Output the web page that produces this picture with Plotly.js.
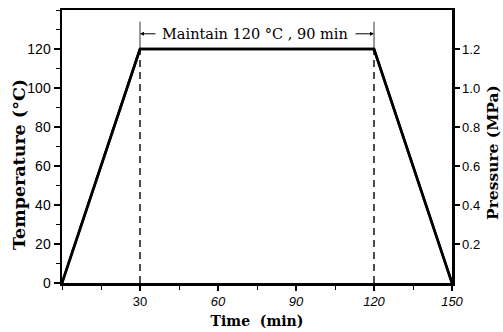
<!DOCTYPE html>
<html>
<head>
<meta charset="utf-8">
<script src="https://cdn.plot.ly/plotly-3.0.1.min.js"></script>
<style>html,body{margin:0;padding:0;background:#fff;}#chart{width:503px;height:332px;}</style>
</head>
<body>
<div id="chart"></div>
<script>
// Data
const timeMin = [0, 30, 120, 150];
const tempC = [0, 120, 120, 0];
const pressureMPa = [0, 1.2, 1.2, 0];
const holdTimes = [30, 120];
const holdTemp = 120;
const xTickVals = [30, 60, 90, 120, 150];
const xTickText = ['30', '<i>60</i>', '<i>90</i>', '<i>120</i>', '<i>150</i>'];
const yTickVals = [0, 20, 40, 60, 80, 100, 120];
const y2TickVals = [0.2, 0.4, 0.6, 0.8, 1.0, 1.2];
const y2TickText = ['0.2', '0.4', '0.6', '0.8', '1.0', '1.2'];
const annotationText = 'Maintain 120 °C , 90 min';
const xTitle = '<b>Time  (min)</b>';
const yTitle = '<b>Temperature (°C)</b>';
const y2Title = '<b>Pressure (MPa)</b>';

const traces = [
  {x: timeMin, y: tempC, mode: 'lines', line: {color: '#000', width: 2.6}, xaxis: 'x', yaxis: 'y', hoverinfo: 'skip'},
  {x: timeMin, y: pressureMPa, mode: 'lines', line: {color: '#000', width: 2.6}, xaxis: 'x', yaxis: 'y2', hoverinfo: 'skip'}
];
holdTimes.forEach(t => {
  traces.push({x: [t, t], y: [0, holdTemp], mode: 'lines', line: {color: '#000', width: 1.4, dash: '7px,5px'}, hoverinfo: 'skip'});
  traces.push({x: [t, t], y: [holdTemp, holdTemp + 14], mode: 'lines', line: {color: '#000', width: 0.8}, hoverinfo: 'skip'});
});

const serif = 'DejaVu Serif, serif';
const sans = 'Liberation Sans, Arial, sans-serif';

const layout = {
  width: 503, height: 332,
  margin: {l: 62, r: 51, t: 10, b: 49},
  showlegend: false,
  paper_bgcolor: '#fff', plot_bgcolor: '#fff',
  xaxis: {
    range: [0, 150], showgrid: false, zeroline: false,
    showline: true, linecolor: '#000', linewidth: 2.5, mirror: true,
    tickmode: 'array', tickvals: xTickVals, ticktext: xTickText,
    ticks: 'outside', ticklen: 5, tickwidth: 1.2, tickcolor: '#000',
    minor: {dtick: 15, ticks: 'outside', ticklen: 4, tickwidth: 1, tickcolor: '#000'},
    tickfont: {family: sans, size: 13, color: '#000'},
    title: {text: xTitle, font: {family: serif, size: 14, color: '#000'}, standoff: 8},
    fixedrange: true
  },
  yaxis: {
    range: [0, 140], showgrid: false, zeroline: false,
    showline: true, linecolor: '#000', linewidth: 2.5,
    tickmode: 'array', tickvals: yTickVals,
    ticks: 'outside', ticklen: 6, tickwidth: 1.2, tickcolor: '#000',
    minor: {dtick: 10, ticks: 'outside', ticklen: 4, tickwidth: 1, tickcolor: '#000'},
    tickfont: {family: sans, size: 14, color: '#000'},
    fixedrange: true
  },
  yaxis2: {
    range: [0, 1.4], overlaying: 'y', side: 'right', showgrid: false, zeroline: false,
    showline: true, linecolor: '#000', linewidth: 2.5,
    tickmode: 'array', tickvals: y2TickVals, ticktext: y2TickText,
    ticks: 'outside', ticklen: 5, tickwidth: 1.2, tickcolor: '#000',
    tickfont: {family: sans, size: 13, color: '#000'},
    automargin: false,
    fixedrange: true
  },
  annotations: [
    {x: (19 - 62) / 390, y: (283 - 165) / 273, xref: 'paper', yref: 'paper', text: yTitle, textangle: -90,
     showarrow: false, xanchor: 'center', yanchor: 'middle', font: {family: serif, size: 17.5, color: '#000'}},
    {x: (492 - 62) / 390, y: (283 - 153) / 273, xref: 'paper', yref: 'paper', text: y2Title, textangle: -90,
     showarrow: false, xanchor: 'center', yanchor: 'middle', font: {family: serif, size: 15.5, color: '#000'}},
    {x: 74.4, y: 127.8, xref: 'x', yref: 'y', text: annotationText, showarrow: false,
     font: {family: serif, size: 14.5, color: '#000'}},
    {x: 30, y: 127.8, ax: 36.5, ay: 127.8, xref: 'x', yref: 'y', axref: 'x', ayref: 'y', text: '',
     showarrow: true, arrowhead: 2, arrowsize: 0.8, arrowwidth: 1, arrowcolor: '#000'},
    {x: 120, y: 127.8, ax: 112.3, ay: 127.8, xref: 'x', yref: 'y', axref: 'x', ayref: 'y', text: '',
     showarrow: true, arrowhead: 2, arrowsize: 0.8, arrowwidth: 1, arrowcolor: '#000'}
  ]
};

Plotly.newPlot('chart', traces, layout, {staticPlot: true, displayModeBar: false});
</script>
</body>
</html>
